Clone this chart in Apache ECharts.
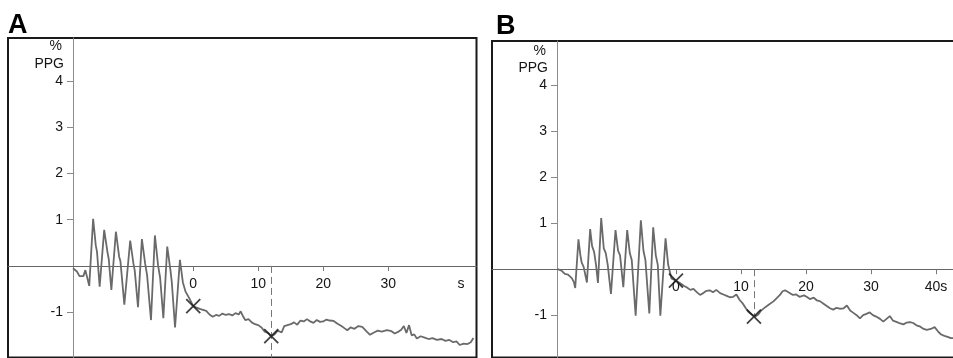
<!DOCTYPE html>
<html><head><meta charset="utf-8">
<script src="https://cdn.jsdelivr.net/npm/echarts@6/dist/echarts.min.js"></script>
<style>html,body{margin:0;padding:0;background:#fff}#c{width:953px;height:358px}</style>
</head><body><div id="c"></div>
<script>
// ---- data (time in s, value in % PPG) ----
const traceA = [
  [-18.5,-0.05],[-17.9,-0.12],[-17.5,-0.22],[-16.9,-0.22],[-16.6,-0.09],[-16.3,-0.1],[-16.0,-0.43],
  [-15.4,1.02],[-15.0,0.45],[-14.8,0.3],[-14.4,-0.45],
  [-13.7,0.78],[-13.2,0.3],[-13.0,0.15],[-12.6,-0.52],
  [-11.9,0.74],[-11.4,0.2],[-11.2,0.1],[-10.6,-0.84],
  [-9.7,0.55],[-9.2,0.05],[-9.0,-0.1],[-8.5,-0.89],
  [-7.9,0.58],[-7.4,0.05],[-7.1,-0.2],[-6.5,-1.17],
  [-5.9,0.66],[-5.4,0.0],[-5.1,-0.25],[-4.6,-1.13],
  [-4.0,0.42],[-3.5,-0.1],[-3.3,-0.35],[-2.8,-1.33],
  [-2.05,0.13],[-1.6,-0.35],[-1.2,-0.55],[-0.6,-0.7],[0,-0.87],
  [0.5,-0.9],[1.0,-0.93],[1.5,-0.95],[2.0,-0.97],[2.5,-1.05],[3.0,-1.1],[3.5,-1.06],[4.0,-1.08],
  [4.5,-1.03],[5.0,-1.06],[5.5,-1.04],[6.0,-1.07],[6.5,-1.02],[7.0,-1.05],[7.3,-0.98],[7.7,-1.1],
  [8.0,-1.17],[8.5,-1.15],[9.0,-1.22],[9.5,-1.26],[10.0,-1.28],[10.5,-1.33],[11.0,-1.42],[11.5,-1.45],
  [12,-1.52],[12.5,-1.48],[13.0,-1.4],[13.3,-1.36],[13.6,-1.44],[14.0,-1.3],[14.5,-1.28],[15.0,-1.26],
  [15.5,-1.22],[16.0,-1.27],[16.5,-1.18],[17.0,-1.2],[17.5,-1.15],[18.0,-1.2],[18.5,-1.23],[19.0,-1.17],
  [19.5,-1.21],[20.0,-1.2],[20.5,-1.16],[21.0,-1.18],[21.6,-1.19],[22.2,-1.25],[22.8,-1.3],[23.3,-1.35],
  [23.7,-1.39],[24.2,-1.33],[24.8,-1.36],[25.4,-1.3],[26.0,-1.32],[26.2,-1.28],[26.7,-1.42],[27.2,-1.49],
  [27.8,-1.44],[28.4,-1.4],[29.0,-1.42],[29.8,-1.39],[30.5,-1.41],[31.0,-1.46],[31.6,-1.42],[32.0,-1.38],
  [32.4,-1.3],[32.8,-1.45],[33.2,-1.28],[33.6,-1.5],[34.0,-1.48],[34.4,-1.57],[35.0,-1.52],[35.6,-1.55],
  [36.2,-1.58],[36.8,-1.56],[37.5,-1.6],[38.2,-1.58],[38.8,-1.62],[39.4,-1.6],[40.0,-1.65],[40.5,-1.63],
  [41.0,-1.71],[41.6,-1.68],[42.2,-1.69],[42.7,-1.65],[43.1,-1.56]
];
const traceB = [
  [-18.2,0.0],[-17.6,-0.03],[-17.1,-0.1],[-16.6,-0.12],[-16.0,-0.2],[-15.7,-0.28],[-15.5,-0.41],
  [-15.0,0.65],[-14.7,0.3],[-14.5,0.14],[-14.2,0.05],[-13.7,-0.29],
  [-13.2,0.87],[-12.9,0.5],[-12.6,0.38],[-12.3,0.1],[-12.0,-0.3],
  [-11.5,1.11],[-11.1,0.45],[-10.8,0.35],[-10.5,0.1],[-10.0,-0.54],
  [-9.3,0.85],[-8.9,0.4],[-8.6,0.3],[-8.1,-0.39],
  [-7.5,0.85],[-7.1,0.35],[-6.8,0.2],[-6.2,-1.01],
  [-5.4,1.06],[-5.0,0.4],[-4.7,0.2],[-4.1,-0.96],
  [-3.5,0.91],[-3.1,0.3],[-2.8,0.1],[-2.4,-1.01],
  [-1.6,0.67],[-1.2,0.1],[-0.7,-0.2],[0,-0.25],
  [0.6,-0.3],[1.2,-0.36],[1.7,-0.4],[2.2,-0.45],[2.7,-0.43],[3.2,-0.5],[3.7,-0.56],[4.2,-0.52],
  [4.7,-0.47],[5.2,-0.46],[5.7,-0.5],[6.2,-0.45],[6.8,-0.52],[7.3,-0.55],[7.8,-0.58],[8.3,-0.61],
  [8.8,-0.6],[9.3,-0.55],[9.8,-0.67],[10.3,-0.75],[10.7,-0.84],[11.1,-0.92],[11.6,-0.98],[12.2,-1.03],
  [12.7,-0.98],[13.1,-0.9],[13.4,-0.92],[13.8,-0.82],[14.2,-0.78],[14.5,-0.74],[15.0,-0.7],[15.5,-0.63],
  [16.0,-0.56],[16.4,-0.48],[16.8,-0.46],[17.3,-0.5],[17.6,-0.53],[18.0,-0.56],[18.5,-0.55],[19.0,-0.6],
  [19.3,-0.63],[19.7,-0.57],[20.1,-0.6],[20.6,-0.65],[21.2,-0.62],[21.7,-0.68],[22.2,-0.7],[22.7,-0.75],
  [23.2,-0.8],[23.7,-0.85],[24.2,-0.88],[24.7,-0.84],[25.2,-0.86],[25.8,-0.85],[26.3,-0.79],[26.8,-0.9],
  [27.3,-0.95],[27.8,-1.0],[28.3,-1.07],[28.8,-1.0],[29.3,-0.97],[29.8,-0.94],[30.3,-1.0],[30.8,-1.03],
  [31.4,-1.08],[31.9,-1.14],[32.4,-1.08],[32.9,-1.02],[33.4,-1.12],[34.0,-1.15],[34.5,-1.18],[35.0,-1.2],
  [35.5,-1.16],[36.0,-1.15],[36.5,-1.17],[37.0,-1.22],[37.6,-1.25],[38.1,-1.3],[38.6,-1.32],[39.2,-1.3],
  [39.8,-1.26],[40.3,-1.35],[40.8,-1.42],[41.3,-1.45],[41.8,-1.47],[42.3,-1.5],[42.8,-1.5]
];
const markersA = [[0,-0.87],[12,-1.52]];
const markersB = [[0,-0.25],[12,-1.03]];
const dashTime = 12;
const dashEndA = -1.98;
const dashEndB = -1.03;
const xTickLabels = [0,10,20,30,40];
const xTicksA = [0,10,20,30];
const xTicksB = [0,10,20,30,40];
const yTickLabels = [-1,1,2,3,4];
const yUnitName = ['%','PPG'];
const panelNames = ['A','B'];

// ---- chart ----
const FONT = 'Liberation Sans, Arial, sans-serif';
const TXT = '#151515';
const chart = echarts.init(document.getElementById('c'), null, {renderer:'canvas'});

// grid geometry (px) and value ranges
const GA = {left:8, top:38, width:468.5, height:319.5, xmin:-28.5, xmax:43.58, ymin:-1.98, ymax:4.93};
const GB = {left:492, top:41, width:481, height:316.5, xmin:-28.3, xmax:45.7, ymin:-1.92, ymax:4.96};
function zeroOffset(g){ // distance from grid bottom up to the y=0 line
  return g.height * (0 - g.ymin) / (g.ymax - g.ymin);
}

function xAxisCfg(gi, g, tickVals, hide40) {
  return {
    type:'value', gridIndex:gi, min:g.xmin, max:g.xmax, position:'bottom', offset:-zeroOffset(g),
    axisLine:{show:true, onZero:false, lineStyle:{color:'#666', width:1}},
    axisTick:{show:true, length:5, customValues:tickVals, lineStyle:{color:'#777'}},
    splitLine:{show:false},
    axisLabel:{
      show:true, margin:11, customValues:xTickLabels, color:TXT, fontSize:14, fontFamily:FONT,
      formatter: v => v === 40 ? (hide40 ? '{h|40}{s|s}' : '{n|40}{s|s}') : String(v),
      rich:{
        h:{color:'rgba(0,0,0,0)', fontSize:14, fontFamily:FONT},
        n:{color:TXT, fontSize:14, fontFamily:FONT},
        s:{color:TXT, fontSize:14, fontFamily:FONT}
      }
    }
  };
}
function yAxisCfg(gi, g) {
  return {
    type:'value', gridIndex:gi, min:g.ymin, max:g.ymax, position:'left', offset:-65,
    axisLine:{show:true, onZero:false, lineStyle:{color:'#8c8c8c', width:1}},
    axisTick:{show:true, length:6, customValues:yTickLabels, lineStyle:{color:'#888'}},
    splitLine:{show:false},
    axisLabel:{show:true, margin:10, customValues:yTickLabels, color:TXT, fontSize:14, fontFamily:FONT,
      formatter: v => String(v)}
  };
}
function gridCfg(g){
  return {left:g.left, top:g.top, width:g.width, height:g.height, containLabel:false, outerBoundsMode:'none',
    show:true, borderColor:'#1a1a1a', borderWidth:2, backgroundColor:'rgba(0,0,0,0)'};
}
const traceStyle = {color:'#6a6a6a', width:1.8};
const markStyle = {color:'none', borderColor:'#111', borderWidth:1.8};
const crossPath = 'path://M0,0L10,10M10,0L0,10';

const option = {
  backgroundColor:'#fff',
  animation:false,
  grid:[ gridCfg(GA), gridCfg(GB) ],
  xAxis:[ xAxisCfg(0, GA, xTicksA, true), xAxisCfg(1, GB, xTicksB, false) ],
  yAxis:[ yAxisCfg(0, GA), yAxisCfg(1, GB) ],
  series:[
    {type:'line', xAxisIndex:0, yAxisIndex:0, data:traceA, showSymbol:false, lineStyle:traceStyle, z:3,
      markLine:{silent:true, symbol:'none', label:{show:false},
        lineStyle:{color:'#777', type:[7,4], width:1},
        data:[[{coord:[dashTime,0]},{coord:[dashTime,dashEndA]}]]}},
    {type:'line', xAxisIndex:1, yAxisIndex:1, data:traceB, showSymbol:false, lineStyle:traceStyle, z:3,
      markLine:{silent:true, symbol:'none', label:{show:false},
        lineStyle:{color:'#777', type:[7,4], width:1},
        data:[[{coord:[dashTime,0]},{coord:[dashTime,dashEndB]}]]}},
    {type:'scatter', xAxisIndex:0, yAxisIndex:0, data:markersA, symbol:crossPath, symbolSize:14, itemStyle:markStyle, z:5},
    {type:'scatter', xAxisIndex:1, yAxisIndex:1, data:markersB, symbol:crossPath, symbolSize:14, itemStyle:markStyle, z:5}
  ],
  graphic:[
    {type:'text', left:8, top:12, style:{text:panelNames[0], font:'bold 27px '+FONT, fill:'#000'}},
    {type:'text', left:496, top:13, style:{text:panelNames[1], font:'bold 27px '+FONT, fill:'#000'}},
    {type:'text', x:62, y:46, style:{text:yUnitName[0], font:'14px '+FONT, fill:TXT, align:'right', verticalAlign:'middle'}},
    {type:'text', x:64, y:64, style:{text:yUnitName[1], font:'14px '+FONT, fill:TXT, align:'right', verticalAlign:'middle'}},
    {type:'text', x:546, y:51, style:{text:yUnitName[0], font:'14px '+FONT, fill:TXT, align:'right', verticalAlign:'middle'}},
    {type:'text', x:548, y:68, style:{text:yUnitName[1], font:'14px '+FONT, fill:TXT, align:'right', verticalAlign:'middle'}}
  ]
};
chart.setOption(option);
</script></body></html>
